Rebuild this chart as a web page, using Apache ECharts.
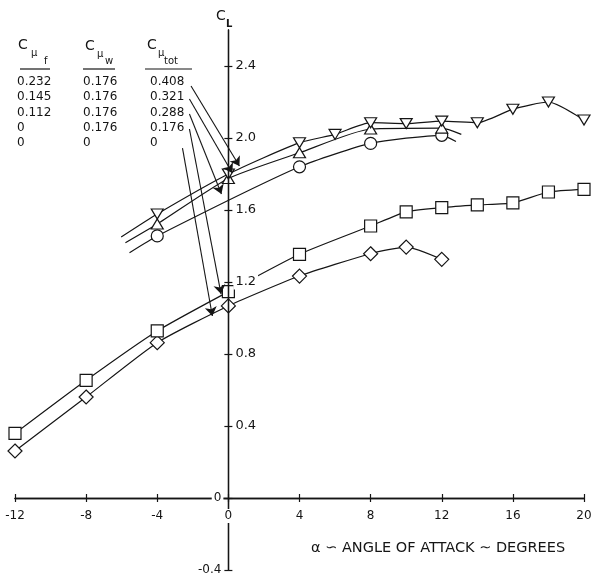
<!DOCTYPE html>
<html><head><meta charset="utf-8">
<script src="https://cdn.jsdelivr.net/npm/echarts@6/dist/echarts.min.js"></script>
<style>html,body{margin:0;padding:0;background:#fff}#c{width:595px;height:577px}</style>
</head><body><div id="c"></div>
<script>
// ---- tick labels ----
const xTicks = [-12, -8, -4, 0, 4, 8, 12, 16, 20];
const yTicksAll = [-0.4, 0, 0.4, 0.8, 1.2, 1.6, 2.0, 2.4];
const yTicksRight = [0.4, 0.8, 1.2, 1.6, 2.0, 2.4];
const yTicksLeft = [-0.4, 0];

// ---- series (alpha in degrees, C_L) ----
// C_mu_tot = 0.408 (inverted triangles)
const alpha408 = [-4, 0, 4, 6, 8, 10, 12, 14, 16, 18, 20];
const cl408 = [1.578, 1.80, 1.974, 2.02, 2.085, 2.08, 2.094, 2.085, 2.16, 2.20, 2.10];
const fair408 = [[-6.03, 1.45]];
// C_mu_tot = 0.321 (triangles)
const alpha321 = [-4, 0, 4, 8, 12];
const cl321 = [1.522, 1.775, 1.918, 2.05, 2.055];
const fair321 = [[-5.79, 1.418], [13.1, 2.02]];
// C_mu_tot = 0.288 (circles)
const alpha288 = [-4, 4, 8, 12];
const cl288 = [1.456, 1.84, 1.97, 2.015];
const fair288 = [[-5.56, 1.363], [12.8, 1.98]];
// C_mu_tot = 0.176 (squares)
const alpha176 = [-12, -8, -4, 0, 4, 8, 10, 12, 14, 16, 18, 20];
const cl176 = [0.359, 0.654, 0.928, 1.146, 1.354, 1.511, 1.59, 1.613, 1.628, 1.64, 1.70, 1.715];
// C_mu_tot = 0 (diamonds)
const alpha0 = [-12, -8, -4, 0, 4, 8, 10, 12];
const cl0 = [0.261, 0.561, 0.863, 1.067, 1.233, 1.357, 1.394, 1.326];

// ---- legend table ----
const colCmuF = ['0.232', '0.145', '0.112', '0', '0'];
const colCmuW = ['0.176', '0.176', '0.176', '0.176', '0'];
const colCmuTot = ['0.408', '0.321', '0.288', '0.176', '0'];

// ---- pointer arrows (data coords: start -> end) ----
const pointerFrom = [[-2.10, 2.289], [-2.19, 2.217], [-2.19, 2.133], [-2.19, 2.05], [-2.58, 1.944]];
const pointerTo = [[0.62, 1.844], [0.22, 1.806], [-0.39, 1.689], [-0.41, 1.133], [-0.90, 1.011]];

const FONT = 'DejaVu Sans';
const INK = '#151515';
const W = 595, H = 577;
const X_MIN = -12, X_MAX = 20, Y_MIN = -0.4, Y_MAX = 2.6;
const G = { left: 15, right: 11, top: 30, bottom: 7 };
const zeroX = G.left + (0 - X_MIN) / (X_MAX - X_MIN) * (W - G.left - G.right);
const zeroY = G.top + (Y_MAX - 0) / (Y_MAX - Y_MIN) * (H - G.top - G.bottom);

function build(xs, ys, fair) {
  const pts = xs.map((x, i) => ({ value: [x, ys[i]] }));
  (fair || []).forEach(p => pts.push({ value: p, symbol: 'none' }));
  pts.sort((a, b) => a.value[0] - b.value[0]);
  return pts;
}

const base = {
  type: 'line', smooth: 0.2, showAllSymbol: true,
  silent: true, animation: false, xAxisIndex: 0, yAxisIndex: 0, z: 2,
  lineStyle: { color: INK, width: 1.2 },
  itemStyle: { color: '#fff', borderColor: INK, borderWidth: 1.2 },
  emphasis: { disabled: true }
};

const series = [
  Object.assign({}, base, { name: '0.288', data: build(alpha288, cl288, fair288), symbol: 'circle', symbolSize: 12 }),
  Object.assign({}, base, { name: '0.321', data: build(alpha321, cl321, fair321), symbol: 'triangle', symbolSize: [12, 10] }),
  Object.assign({}, base, { name: '0.408', data: build(alpha408, cl408, fair408), symbol: 'triangle', symbolRotate: 180, symbolSize: [12, 10] }),
  Object.assign({}, base, { name: '0', data: build(alpha0, cl0), symbol: 'diamond', symbolSize: 14 }),
  Object.assign({}, base, { name: '0.176', data: build(alpha176, cl176), symbol: 'rect', symbolSize: 12 }),
  {
    type: 'lines', name: 'pointers', coordinateSystem: 'cartesian2d', xAxisIndex: 0, yAxisIndex: 0,
    silent: true, animation: false, z: 3,
    symbol: ['none', 'arrow'], symbolSize: [1, 9],
    lineStyle: { color: INK, width: 1.1, opacity: 1, curveness: 0 },
    itemStyle: { color: INK },
    data: pointerFrom.map((p, i) => ({ coords: [p, pointerTo[i]] }))
  }
];

const lineStyle = { color: INK, width: 1.3 };
const tickStyle = { lineStyle: { color: INK, width: 1.2 } };
const labelFont = { fontFamily: FONT, color: INK, backgroundColor: '#fff', padding: [1, 2] };
const fmt = v => (Math.abs(v) < 1e-9 ? '0' : v.toFixed(1));

const graphics = [];
function txt(x, y, s, size, extra) {
  graphics.push({ type: 'text', x: x, y: y, silent: true, z: 10,
    style: Object.assign({ text: s, fontFamily: FONT, fontSize: size, fill: INK, align: 'left', verticalAlign: 'middle' }, extra || {}) });
}
function hline(x1, x2, y) {
  graphics.push({ type: 'line', silent: true, z: 10, shape: { x1: x1, y1: y, x2: x2, y2: y }, style: { stroke: INK, lineWidth: 1.2 } });
}
// C_L axis title
txt(216, 16, 'C', 14);
txt(226, 24, 'L', 10, { fontWeight: 'bold' });
// table headers
txt(18, 45, 'C', 14); txt(31, 53, 'μ', 10); txt(44, 61, 'f', 10);
txt(85, 46, 'C', 14); txt(97, 54, 'μ', 10); txt(105, 61, 'w', 10);
txt(147, 45, 'C', 14); txt(158, 53, 'μ', 10); txt(164, 61, 'tot', 10);
hline(20, 50, 69); hline(83, 115, 69); hline(145, 192, 69);
[[colCmuF, 17], [colCmuW, 83], [colCmuTot, 150]].forEach(([col, x]) => {
  col.forEach((s, i) => txt(x, 82 + i * 15.2, s, 12));
});
// x axis title
txt(311, 548, 'α ∽ ANGLE OF ATTACK ∼ DEGREES', 14.5);

const hidden = { show: false };
const chart = echarts.init(document.getElementById('c'), null, { renderer: 'canvas' });
chart.setOption({
  backgroundColor: '#fff',
  animation: false,
  grid: [
    Object.assign({ outerBoundsMode: 'none', containLabel: false }, G),
    { left: G.left, right: G.right, top: G.top, height: zeroY - G.top, outerBoundsMode: 'none', containLabel: false },
    { left: zeroX, width: 1, top: G.top, bottom: G.bottom, outerBoundsMode: 'none', containLabel: false }
  ],
  xAxis: [
    { type: 'value', gridIndex: 0, min: X_MIN, max: X_MAX, interval: 4, z: 4, position: 'bottom',
      axisLine: { onZero: true, onZeroAxisIndex: 0, lineStyle: lineStyle },
      axisTick: Object.assign({ show: true, length: 4, customValues: xTicks }, tickStyle),
      axisLabel: hidden, splitLine: hidden },
    { type: 'value', gridIndex: 0, min: X_MIN, max: X_MAX, interval: 4, z: 4, position: 'bottom',
      axisLine: { onZero: true, onZeroAxisIndex: 0, lineStyle: lineStyle },
      axisTick: Object.assign({ show: true, inside: true, length: 4, customValues: xTicks }, tickStyle),
      axisLabel: hidden, splitLine: hidden },
    { type: 'value', gridIndex: 1, min: X_MIN, max: X_MAX, interval: 4, z: 5, position: 'bottom',
      axisLine: { show: false, onZero: false }, axisTick: hidden, splitLine: hidden,
      axisLabel: Object.assign({ customValues: xTicks, margin: 11, fontSize: 12, formatter: v => String(v) }, labelFont) },
    { type: 'value', gridIndex: 2, min: X_MIN, max: X_MAX, show: false }
  ],
  yAxis: [
    { type: 'value', gridIndex: 0, min: Y_MIN, max: Y_MAX, interval: 0.4, z: 3, position: 'left',
      axisLine: { onZero: true, onZeroAxisIndex: 0, lineStyle: lineStyle },
      axisTick: Object.assign({ show: true, length: 4, customValues: yTicksAll }, tickStyle),
      axisLabel: hidden, splitLine: hidden },
    { type: 'value', gridIndex: 0, min: Y_MIN, max: Y_MAX, interval: 0.4, z: 3, position: 'left',
      axisLine: { onZero: true, onZeroAxisIndex: 0, lineStyle: lineStyle },
      axisTick: Object.assign({ show: true, inside: true, length: 4, customValues: yTicksAll }, tickStyle),
      axisLabel: hidden, splitLine: hidden },
    { type: 'value', gridIndex: 1, min: Y_MIN, max: Y_MAX, show: false },
    { type: 'value', gridIndex: 2, min: Y_MIN, max: Y_MAX, interval: 0.4, z: 5, position: 'left',
      axisLine: { show: false, onZero: false }, axisTick: hidden, splitLine: hidden,
      axisLabel: Object.assign({ customValues: yTicksLeft, margin: 5, fontSize: 12, formatter: fmt }, labelFont) },
    { type: 'value', gridIndex: 2, min: Y_MIN, max: Y_MAX, interval: 0.4, z: 5, position: 'left',
      axisLine: { show: false, onZero: false }, axisTick: hidden, splitLine: hidden,
      axisLabel: Object.assign({ customValues: yTicksRight, inside: true, margin: 5, fontSize: 13, formatter: fmt }, labelFont) }
  ],
  graphic: graphics,
  series: series
});
</script>
</body></html>
